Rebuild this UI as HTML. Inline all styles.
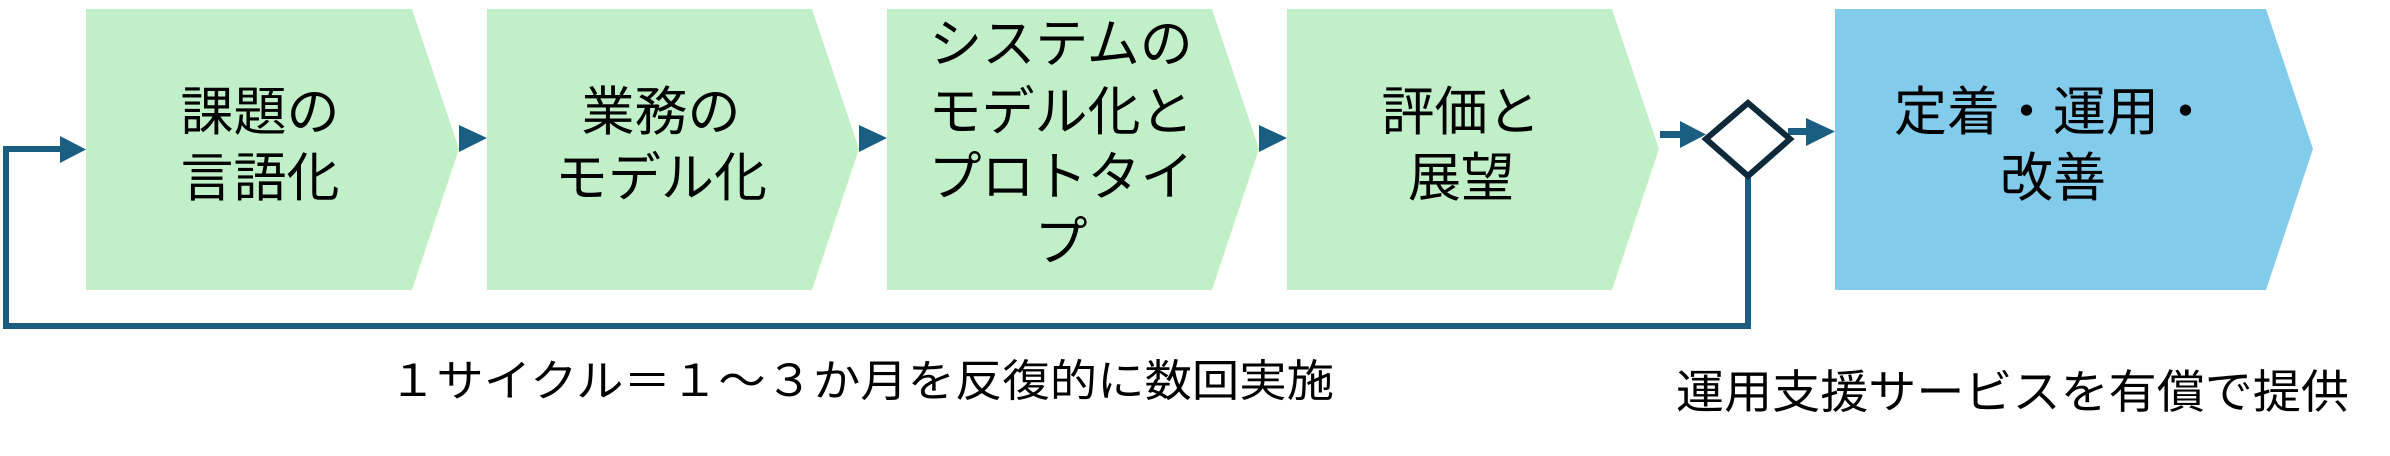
<!DOCTYPE html>
<html><head><meta charset="utf-8"><style>
html,body{margin:0;padding:0;background:#fff;}
svg{display:block;}
text{font-family:"Liberation Sans","Noto Sans CJK JP",sans-serif;fill:#000;}
</style></head><body>
<svg width="2390" height="456" viewBox="0 0 2390 456" xmlns="http://www.w3.org/2000/svg">
<polygon points="86,9 412,9 459,149 412,290 86,290" fill="#c1f0c8"/>
<polygon points="487,9 812,9 859,149 812,290 487,290" fill="#c1f0c8"/>
<polygon points="887,9 1212,9 1259,149 1212,290 887,290" fill="#c1f0c8"/>
<polygon points="1287,9 1612,9 1659,149 1612,290 1287,290" fill="#c1f0c8"/>
<polygon points="1835,9 2266,9 2313,149 2266,290 1835,290" fill="#83cbeb"/>
<polygon points="459,125 487,138 459,152" fill="#1a5e82"/>
<polygon points="859,125 887,138 859,152" fill="#1a5e82"/>
<polygon points="1259,125 1287,138 1259,152" fill="#1a5e82"/>
<rect x="1660" y="131" width="24" height="7" fill="#1a5e82"/>
<polygon points="1680,121 1706,134.5 1680,148" fill="#1a5e82"/>
<rect x="1788" y="128" width="22" height="7" fill="#1a5e82"/>
<polygon points="1806,118 1835,131.5 1806,146" fill="#1a5e82"/>
<polyline points="1748,177 1748,326 6,326 6,149 62,149" fill="none" stroke="#1a5e82" stroke-width="6"/>
<polygon points="60,136 86,149.5 60,163" fill="#1a5e82"/>
<polygon points="1748,103 1790,139 1748,176 1706,139" fill="#fff" stroke="#0e2a3a" stroke-width="6"/>
<g font-size="53" text-anchor="middle">
<text x="260" y="130">課題の</text>
<text x="260" y="196">言語化</text>
<text x="661" y="130">業務の</text>
<text x="661" y="196">モデル化</text>
<text x="1061" y="62">システムの</text>
<text x="1061" y="130">モデル化と</text>
<text x="1061" y="195">プロトタイ</text>
<text x="1061" y="260">プ</text>
<text x="1461" y="130">評価と</text>
<text x="1461" y="196">展望</text>
<text x="2053" y="130">定着・運用・</text>
<text x="2053" y="196">改善</text>
</g>
<text x="389" y="396" font-size="44" textLength="945" lengthAdjust="spacingAndGlyphs">１サイクル＝１～３か月を反復的に数回実施</text>
<text x="1676" y="408" font-size="46" textLength="673" lengthAdjust="spacingAndGlyphs">運用支援サービスを有償で提供</text>
</svg>
</body></html>
